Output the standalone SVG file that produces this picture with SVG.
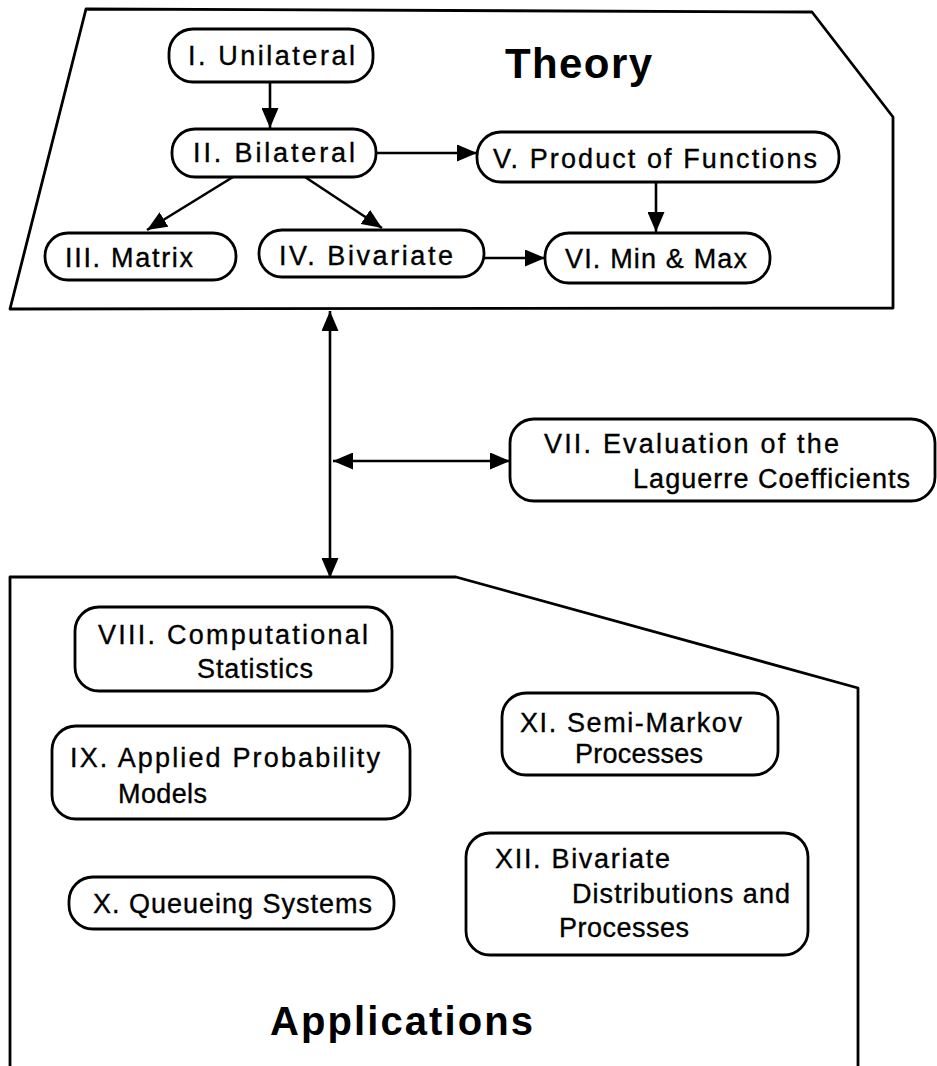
<svg xmlns="http://www.w3.org/2000/svg" width="937" height="1066" viewBox="0 0 937 1066">
<style>
.frame{fill:none;stroke:#000;stroke-width:2.8;stroke-linejoin:round}
.box{fill:#fff;stroke:#000;stroke-width:2.8}
.t{font-family:"Liberation Sans",Arial,sans-serif;font-size:27px;fill:#000;stroke:#000;stroke-width:0.35}
.big{font-family:"Liberation Sans",Arial,sans-serif;font-weight:bold;fill:#000}
.c{fill:none;stroke:#000;stroke-width:2.6}
</style>
<defs>
<marker id="ah" viewBox="0 0 20 17" refX="20" refY="8.5" markerWidth="20" markerHeight="17" markerUnits="userSpaceOnUse" orient="auto-start-reverse">
<path d="M0,0 L20,8.5 L0,17 Z" fill="#000"/>
</marker>
</defs>
<rect width="937" height="1066" fill="#fff"/>
<g id="theory">
<polygon class="frame" points="86,9 812,12 893,117 893,308 10,309"/>
<text class="big" x="505" y="78" font-size="42" textLength="147" lengthAdjust="spacing">Theory</text>
</g>
<g id="applications">
<polyline class="frame" points="10,1066 10,577 456,577 858,688 858,1066"/>
<text class="big" x="270" y="1035" font-size="40" textLength="263" lengthAdjust="spacing">Applications</text>
</g>
<g id="connectors">
<line class="c" x1="270" y1="82" x2="270" y2="128" marker-end="url(#ah)"/>
<line class="c" x1="376" y1="153" x2="477" y2="153" marker-end="url(#ah)"/>
<line class="c" x1="233" y1="177" x2="147" y2="230" marker-end="url(#ah)"/>
<line class="c" x1="305" y1="177" x2="382" y2="228" marker-end="url(#ah)"/>
<line class="c" x1="656" y1="182" x2="656" y2="232" marker-end="url(#ah)"/>
<line class="c" x1="484" y1="258" x2="545" y2="258" marker-end="url(#ah)"/>
<line class="c" x1="330" y1="311" x2="330" y2="578" marker-start="url(#ah)" marker-end="url(#ah)"/>
<line class="c" x1="333" y1="461" x2="510" y2="461" marker-start="url(#ah)" marker-end="url(#ah)"/>
</g>
<g id="n1"><rect class="box" x="169" y="29" width="204" height="53" rx="24"/><text class="t" x="188" y="65" textLength="167" lengthAdjust="spacing">I.  Unilateral</text></g>
<g id="n2"><rect class="box" x="172" y="129" width="204" height="48" rx="23"/><text class="t" x="193" y="162" textLength="162" lengthAdjust="spacing">II.  Bilateral</text></g>
<g id="n3"><rect class="box" x="45" y="233" width="191" height="47" rx="23"/><text class="t" x="65" y="267" textLength="128" lengthAdjust="spacing">III.  Matrix</text></g>
<g id="n4"><rect class="box" x="259" y="230" width="225" height="47" rx="23"/><text class="t" x="279" y="265" textLength="174" lengthAdjust="spacing">IV.  Bivariate</text></g>
<g id="n5"><rect class="box" x="477" y="132" width="362" height="50" rx="24"/><text class="t" x="493" y="168" textLength="324" lengthAdjust="spacing">V. Product of Functions</text></g>
<g id="n6"><rect class="box" x="545" y="233" width="225" height="50" rx="24"/><text class="t" x="565" y="268" textLength="182" lengthAdjust="spacing">VI. Min &amp; Max</text></g>
<g id="n7"><rect class="box" x="510" y="419" width="425" height="82" rx="24"/><text class="t" x="544" y="453" textLength="295" lengthAdjust="spacing">VII. Evaluation of the</text><text class="t" x="633" y="488" textLength="277" lengthAdjust="spacing">Laguerre Coefficients</text></g>
<g id="n8"><rect class="box" x="75" y="607" width="317" height="84" rx="24"/><text class="t" x="98" y="644" textLength="270" lengthAdjust="spacing">VIII.  Computational</text><text class="t" x="197" y="678" textLength="116" lengthAdjust="spacing">Statistics</text></g>
<g id="n9"><rect class="box" x="52" y="726" width="358" height="93" rx="24"/><text class="t" x="70" y="767" textLength="310" lengthAdjust="spacing">IX.  Applied  Probability</text><text class="t" x="118" y="803" textLength="89" lengthAdjust="spacing">Models</text></g>
<g id="n10"><rect class="box" x="69" y="877" width="325" height="52" rx="24"/><text class="t" x="93" y="913" textLength="279" lengthAdjust="spacing">X. Queueing Systems</text></g>
<g id="n11"><rect class="box" x="502" y="693" width="276" height="82" rx="24"/><text class="t" x="520" y="732" textLength="222" lengthAdjust="spacing">XI.  Semi-Markov</text><text class="t" x="575" y="763" textLength="128" lengthAdjust="spacing">Processes</text></g>
<g id="n12"><rect class="box" x="466" y="833" width="342" height="122" rx="24"/><text class="t" x="495" y="868" textLength="175" lengthAdjust="spacing">XII.  Bivariate</text><text class="t" x="572" y="903" textLength="218" lengthAdjust="spacing">Distributions and</text><text class="t" x="559" y="937" textLength="130" lengthAdjust="spacing">Processes</text></g>
</svg>
